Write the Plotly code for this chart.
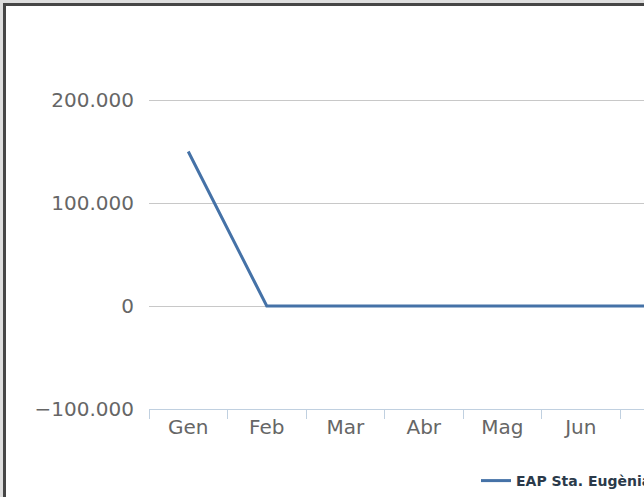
import plotly.graph_objects as go

months = ["Gen", "Feb", "Mar", "Abr", "Mag", "Jun", "Jul", "Ago", "Set", "Oct", "Nov", "Des"]
values = [150000, 0, 0, 0, 0, 0, 0, 0, 0, 0, 0, 0]
series_name = "EAP Sta. Eugènia de Berga"
y_ticks = [-100000, 0, 100000, 200000]

W, H = 644, 497
L, R, T, B = 149, 0, 99, 88
plot_w, plot_h = W - L - R, H - T - B


def px_x(px):
    return (px - L) / plot_w


def px_y(py):
    return (H - B - py) / plot_h


fig = go.Figure(
    go.Scatter(
        x=months,
        y=values,
        mode="lines",
        name=series_name,
        line=dict(color="#4572A7", width=3),
        showlegend=True,
    )
)

fig.update_layout(
    width=W,
    height=H,
    margin=dict(l=L, r=R, t=T, b=B, autoexpand=False),
    paper_bgcolor="#dedede",
    plot_bgcolor="#ffffff",
    separators=",.",
    font=dict(family="DejaVu Sans", color="#666666", size=20),
    showlegend=True,
    legend=dict(
        orientation="h",
        x=px_x(476),
        xanchor="left",
        y=px_y(465),
        yanchor="top",
        font=dict(family="DejaVu Sans", size=14, color="#2b3a4a", weight="bold"),
        bgcolor="rgba(0,0,0,0)",
    ),
    shapes=[
        dict(
            type="rect",
            xref="paper",
            yref="paper",
            x0=px_x(4.5),
            x1=px_x(660),
            y0=px_y(515),
            y1=px_y(4.5),
            fillcolor="#ffffff",
            line=dict(color="#464646", width=3),
            layer="below",
        )
    ],
)

fig.update_xaxes(
    type="category",
    range=[-0.5, -0.5 + plot_w / 78.5],
    tickson="boundaries",
    ticks="outside",
    ticklen=9,
    tickcolor="#C0D0E0",
    showline=True,
    linecolor="#C0D0E0",
    linewidth=1,
    showgrid=False,
    zeroline=False,
    fixedrange=True,
)
fig.update_yaxes(
    range=[-100000, 201000],
    tickvals=y_ticks,
    tickformat=",d",
    showgrid=True,
    gridcolor="#C8C8C8",
    gridwidth=1,
    zeroline=True,
    zerolinecolor="#C8C8C8",
    zerolinewidth=1,
    ticks="",
    ticklabelstandoff=14,
    showline=False,
    fixedrange=True,
)

fig.write_html(
    "out.html",
    config={"displayModeBar": False},
    post_script="document.body.style.margin='0';document.body.style.overflow='hidden';",
)
